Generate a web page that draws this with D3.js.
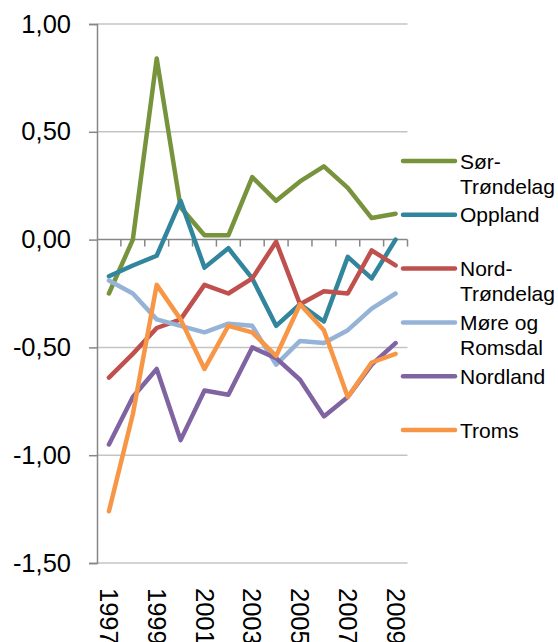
<!DOCTYPE html>
<html>
<head>
<meta charset="utf-8">
<script src="https://cdn.jsdelivr.net/npm/d3@7"></script>
<style>
  html, body { margin: 0; padding: 0; background: #fff; }
  svg { display: block; font-family: "Liberation Sans", Arial, sans-serif; }
</style>
</head>
<body>
<svg id="chart" width="558" height="642"></svg>
<script>
const years = [1997, 1998, 1999, 2000, 2001, 2002, 2003, 2004, 2005, 2006, 2007, 2008, 2009]
const yearLabels = ["1997", "1999", "2001", "2003", "2005", "2007", "2009"]
const yTicks = [-1.5, -1.0, -0.5, 0, 0.5, 1.0]

const sorTrondelag = [-0.25, 0.00, 0.84, 0.15, 0.02, 0.02, 0.29, 0.18, 0.27, 0.34, 0.24, 0.10, 0.12]
const oppland = [-0.17, -0.12, -0.075, 0.18, -0.13, -0.04, -0.18, -0.40, -0.30, -0.38, -0.08, -0.18, 0.00]
const nordTrondelag = [-0.64, -0.53, -0.41, -0.37, -0.21, -0.25, -0.18, -0.01, -0.30, -0.24, -0.25, -0.05, -0.12]
const moreRomsdal = [-0.19, -0.25, -0.37, -0.40, -0.43, -0.39, -0.40, -0.58, -0.47, -0.48, -0.42, -0.32, -0.25]
const nordland = [-0.95, -0.73, -0.60, -0.93, -0.70, -0.72, -0.50, -0.55, -0.65, -0.82, -0.73, -0.58, -0.48]
const troms = [-1.26, -0.81, -0.21, -0.37, -0.60, -0.40, -0.43, -0.54, -0.30, -0.42, -0.73, -0.57, -0.53]

const series = [
  { name: ["Sør-", "Trøndelag"], values: sorTrondelag, color: "#77933C" },
  { name: ["Oppland"], values: oppland, color: "#31859C" },
  { name: ["Nord-", "Trøndelag"], values: nordTrondelag, color: "#C0504D" },
  { name: ["Møre og", "Romsdal"], values: moreRomsdal, color: "#95B3D7" },
  { name: ["Nordland"], values: nordland, color: "#8064A2" },
  { name: ["Troms"], values: troms, color: "#F79646" }
]

const svg = d3.select("#chart")

const plotLeft = 97, plotRight = 407.5, plotTop = 24, plotBottom = 563

const x = d3.scaleBand().domain(years).range([plotLeft, plotRight])
const y = d3.scaleLinear().domain([-1.5, 1]).range([plotBottom, plotTop])
const cx = d => x(d) + x.bandwidth() / 2

// comma decimals, plain hyphen for negatives (like the original)
const fmt = d => d3.format(".2f")(d).replace(".", ",").replace("\u2212", "-")

// horizontal gridlines
svg.append("g")
  .selectAll("line")
  .data(yTicks.filter(t => t !== 0))
  .enter()
  .append("line")
  .attr("x1", plotLeft)
  .attr("x2", plotRight)
  .attr("y1", d => y(d))
  .attr("y2", d => y(d))
  .attr("stroke", "#C4C4C4")
  .attr("stroke-width", 1.5)

// y axis
const yAxis = svg.append("g")
  .attr("transform", `translate(${plotLeft},0)`)
  .call(d3.axisLeft(y).tickValues(yTicks).tickSize(8).tickPadding(18).tickFormat(fmt))
yAxis.select(".domain").attr("stroke", "#878787").attr("stroke-width", 1.5)
yAxis.selectAll(".tick line").attr("stroke", "#878787").attr("stroke-width", 1.5)
yAxis.selectAll("text")
  .attr("fill", "#000")
  .style("font-size", "25.5px")
  .style("font-family", "'Liberation Sans', Arial, sans-serif")

// category axis at zero
svg.append("line")
  .attr("x1", plotLeft)
  .attr("x2", plotRight)
  .attr("y1", y(0))
  .attr("y2", y(0))
  .attr("stroke", "#878787")
  .attr("stroke-width", 1.5)

svg.append("g")
  .selectAll("line")
  .data(years)
  .enter()
  .append("line")
  .attr("x1", d => x(d) + x.bandwidth())
  .attr("x2", d => x(d) + x.bandwidth())
  .attr("y1", y(0))
  .attr("y2", y(0) + 7)
  .attr("stroke", "#878787")
  .attr("stroke-width", 1.5)

// year labels, rotated
svg.append("g")
  .selectAll("text")
  .data(yearLabels)
  .enter()
  .append("text")
  .attr("transform", d => `translate(${cx(+d)},${plotBottom + 25}) rotate(90)`)
  .attr("dy", "0.35em")
  .attr("text-anchor", "start")
  .style("font-size", "25.5px")
  .attr("fill", "#000")
  .text(d => d)

// lines
const line = d3.line()
  .x((d, i) => cx(years[i]))
  .y(d => y(d))

svg.append("g")
  .selectAll("path")
  .data(series)
  .enter()
  .append("path")
  .attr("d", d => line(d.values))
  .attr("fill", "none")
  .attr("stroke", d => d.color)
  .attr("stroke-width", 4.5)
  .attr("stroke-linejoin", "round")
  .attr("stroke-linecap", "round")

// legend
const legend = svg.append("g")
  .selectAll("g")
  .data(series)
  .enter()
  .append("g")
  .attr("transform", (d, i) => `translate(0,${161 + i * 53.8})`)

legend.append("line")
  .attr("x1", 403)
  .attr("x2", 455)
  .attr("stroke", d => d.color)
  .attr("stroke-width", 4.5)
  .attr("stroke-linecap", "round")

legend.append("text")
  .attr("x", 460)
  .style("font-size", "21px")
  .attr("fill", "#000")
  .selectAll("tspan")
  .data(d => d.name)
  .enter()
  .append("tspan")
  .attr("x", 460)
  .attr("y", (d, i) => i * 25)
  .attr("dy", "0.36em")
  .text(d => d)
</script>
</body>
</html>
